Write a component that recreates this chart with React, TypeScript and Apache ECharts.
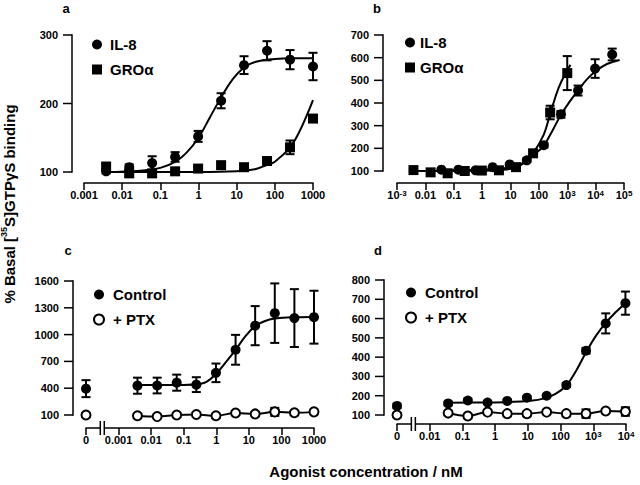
import React, { useEffect, useRef } from "react";
import * as echarts from "echarts";

const FONT = '"Liberation Sans", Arial, Helvetica, sans-serif';

// ---------- Panel a ----------
const concA = [0.0038, 0.0153, 0.061, 0.244, 0.977, 3.91, 15.6, 62.5, 250, 1000];
const il8A = [101, 107, 113, 122, 152, 204, 256, 277, 264, 254];
const il8AErr = [3, 4, 10, 7, 8, 11, 13, 14, 14, 20];
const groA = [108, 98, 98, 101, 105, 110, 107, 116, 136, 178];
const groAErr = [4, 4, 3, 3, 3, 4, 3, 4, 10, 5];
const il8AFitConc = [0.0038, 0.03, 0.1, 0.25, 0.5, 1, 2, 4, 8, 16, 32, 100, 300, 1000];
const il8AFit = [100, 102, 106, 115, 129, 150, 180, 210, 236, 253, 261, 265, 266, 266];
const groAFitConc = [0.0038, 1, 10, 30, 60, 100, 250, 450, 1000];
const groAFit = [100, 100, 101, 104, 110, 115, 136, 160, 205];
const ticksA = ["0.001", "0.01", "0.1", "1", "10", "100", "1000"];

// ---------- Panel b ----------
const concGroB = [0.0038, 0.0153, 0.061, 0.244, 0.977, 3.91, 15.6, 62.5, 250, 1000];
const groB = [104, 94, 90, 100, 102, 103, 117, 178, 358, 532];
const groBErr = [4, 4, 4, 4, 4, 4, 5, 10, 30, 75];
const concIl8B = [0.0366, 0.146, 0.586, 2.34, 9.37, 37.5, 150, 600, 2400, 9600, 38400];
const il8B = [106, 106, 103, 117, 129, 147, 214, 350, 455, 552, 614];
const il8BErr = [5, 5, 4, 5, 6, 8, 10, 15, 22, 41, 26];
const groBFitConc = [0.0038, 1, 5, 15, 30, 62.5, 150, 250, 500, 1000, 1300];
const groBFit = [100, 101, 105, 115, 135, 178, 262, 352, 468, 545, 568];
const il8BFitConc = [0.0366, 1, 5, 15, 40, 100, 150, 300, 600, 1200, 2400, 5000, 10000, 25000, 70000];
const il8BFit = [103, 106, 112, 120, 148, 190, 212, 278, 348, 405, 455, 505, 540, 572, 590];
const ticksB = ["10^-3", "0.01", "0.1", "1", "10", "100", "10^3", "10^4", "10^5"];

// ---------- Panel c ----------
const concC = [0, 0.0038, 0.0153, 0.061, 0.244, 0.977, 3.91, 15.6, 62.5, 250, 1000];
const ctrlC = [395, 428, 430, 462, 440, 572, 830, 1100, 1240, 1185, 1195];
const ctrlCErr = [95, 90, 88, 90, 83, 104, 167, 219, 333, 324, 296];
const ptxC = [100, 92, 82, 100, 105, 92, 122, 112, 135, 125, 135];
const ptxCErr = [0, 0, 0, 0, 0, 0, 0, 0, 45, 0, 0];
const ctrlCFitConc = [0.0038, 0.1, 0.3, 0.5, 1, 2, 3.91, 8, 15.6, 30, 62.5, 250, 1000];
const ctrlCFit = [435, 437, 447, 470, 565, 695, 830, 985, 1095, 1150, 1180, 1195, 1198];
const ticksC = ["0", "0.001", "0.01", "0.1", "1", "10", "100", "1000"];

// ---------- Panel d ----------
const concD = [0, 0.0366, 0.146, 0.586, 2.34, 9.37, 37.5, 150, 600, 2400, 9600];
const ctrlD = [147, 160, 175, 165, 173, 190, 200, 255, 433, 575, 680];
const ctrlDErr = [12, 10, 10, 8, 8, 8, 8, 10, 15, 52, 60];
const ptxD = [100, 110, 95, 115, 107, 107, 115, 107, 107, 121, 118];
const ptxDErr = [0, 0, 0, 0, 0, 0, 0, 0, 22, 0, 22];
const ctrlDFitConc = [0.0366, 0.5, 3, 10, 30, 70, 150, 300, 600, 1200, 2400, 5000, 9600];
const ctrlDFit = [163, 165, 168, 173, 185, 210, 253, 330, 425, 510, 578, 635, 680];
const ticksD = ["0", "0.01", "0.1", "1", "10", "100", "10^3", "10^4"];

// axis position used for the zero-dose point (left of the axis break)
const ZERO_C = -4;
const ZERO_D = -3;

const toX = (c: number, zero: number) => (c === 0 ? zero : Math.log10(c));
const pts = (conc: number[], v: number[], zero = -99) => conc.map((c, i) => [toX(c, zero), v[i]]);
const errPts = (conc: number[], v: number[], e: number[], zero = -99) =>
  conc.map((c, i) => [toX(c, zero), v[i], e[i]]).filter((d) => d[2] > 0);

const supFmt = (s: string) => {
  const m = s.match(/^10\^(.+)$/);
  return m ? `10{s|${m[1]}}` : s;
};

const BLACK = "#000";

function fit(gi: number, data: number[][]) {
  return {
    type: "line", xAxisIndex: gi, yAxisIndex: gi, data, smooth: 0.4, showSymbol: false,
    symbol: "none", lineStyle: { color: BLACK, width: 2, opacity: 1 }, z: 2, silent: true, clip: false,
  };
}

function errBars(gi: number, data: number[][]) {
  return {
    type: "custom", xAxisIndex: gi, yAxisIndex: gi, data, z: 3, silent: true, clip: false,
    encode: { x: 0, y: 1 },
    renderItem: (_p: any, api: any) => {
      const x = api.value(0), y = api.value(1), e = api.value(2);
      const t = api.coord([x, y + e]);
      const b = api.coord([x, y - e]);
      const hw = 4.5;
      const st = { stroke: BLACK, lineWidth: 2 };
      return {
        type: "group",
        children: [
          { type: "line", shape: { x1: t[0], y1: t[1], x2: b[0], y2: b[1] }, style: st },
          { type: "line", shape: { x1: t[0] - hw, y1: t[1], x2: t[0] + hw, y2: t[1] }, style: st },
          { type: "line", shape: { x1: b[0] - hw, y1: b[1], x2: b[0] + hw, y2: b[1] }, style: st },
        ],
      };
    },
  };
}

function dots(name: string, gi: number, data: number[][], symbol: string, size: number, open = false) {
  return {
    type: "scatter", name, xAxisIndex: gi, yAxisIndex: gi, data, symbol, symbolSize: size,
    itemStyle: open
      ? { color: "#fff", borderColor: BLACK, borderWidth: 2, opacity: 1 }
      : { color: BLACK, opacity: 1 },
    z: 4, silent: true, clip: false,
  };
}

// x-axis break mark "||" between the zero-dose tick and the first decade
function axisBreak(gi: number, pos: number, ymin: number, offset: number) {
  return {
    type: "custom", xAxisIndex: gi, yAxisIndex: gi, data: [[pos, ymin]], z: 5, silent: true, clip: false,
    encode: { x: 0, y: 1 },
    renderItem: (_p: any, api: any) => {
      const c = api.coord([api.value(0), api.value(1)]);
      const y = c[1] + offset;
      const st = { stroke: BLACK, lineWidth: 1.5 };
      return {
        type: "group",
        children: [
          { type: "rect", shape: { x: c[0] - 2, y: y - 2, width: 4, height: 4 }, style: { fill: "#fff" } },
          { type: "line", shape: { x1: c[0] - 2, y1: y - 7, x2: c[0] - 2, y2: y + 7 }, style: st },
          { type: "line", shape: { x1: c[0] + 2, y1: y - 7, x2: c[0] + 2, y2: y + 7 }, style: st },
        ],
      };
    },
  };
}

// offset y-axis line with its ticks (drawn from the y-axis values, shifted left of the plot)
function yLine(gi: number, xmin: number, ticks: number[], offset: number) {
  const ymin = ticks[0], ymax = ticks[ticks.length - 1];
  return {
    type: "custom", xAxisIndex: gi, yAxisIndex: gi, data: [[xmin, ymin, ymax]], z: 6, silent: true, clip: false,
    encode: { x: 0, y: 1 },
    renderItem: (_p: any, api: any) => {
      const x0 = api.value(0);
      const b = api.coord([x0, api.value(1)]);
      const t = api.coord([x0, api.value(2)]);
      const ax = b[0] - offset;
      const children: any[] = [
        { type: "rect", shape: { x: ax - 0.75, y: t[1] - 0.75, width: 1.5, height: b[1] - t[1] + 1.5 }, style: { fill: BLACK } },
      ];
      ticks.forEach((v) => {
        const p = api.coord([x0, v]);
        children.push({ type: "rect", shape: { x: ax - 9, y: p[1] - 0.75, width: 9, height: 1.5 }, style: { fill: BLACK } });
      });
      return { type: "group", children };
    },
  };
}

const labelBase = { color: BLACK, fontSize: 11, fontWeight: "bold", fontFamily: FONT };

function xAxis(gi: number, min: number, max: number, ticks: string[], offset: number) {
  return {
    type: "value", gridIndex: gi, min, max, interval: 1, offset, position: "bottom",
    axisLine: { show: true, onZero: false, lineStyle: { color: BLACK, width: 1.5 } },
    axisTick: { show: true, length: 7, lineStyle: { color: BLACK, width: 1.5 } },
    splitLine: { show: false },
    axisLabel: {
      ...labelBase, margin: 6, showMinLabel: true, showMaxLabel: true, hideOverlap: false,
      formatter: (v: number) => supFmt(ticks[Math.round(v - min)] ?? ""),
      rich: { s: { ...labelBase, fontSize: 8, verticalAlign: "top", lineHeight: 8 } },
    },
  };
}

function yAxis(gi: number, min: number, max: number, interval: number, offset: number) {
  return {
    type: "value", gridIndex: gi, min, max, interval, offset, position: "left",
    axisLine: { show: false, onZero: false },
    axisTick: { show: false },
    splitLine: { show: false },
    axisLabel: {
      ...labelBase, margin: 14, showMinLabel: true, showMaxLabel: true,
      formatter: (v: number) => String(v),
    },
  };
}

const legendText = { color: BLACK, fontSize: 15, fontWeight: "bold", fontFamily: FONT, lineHeight: 15 };
function legend(names: any[], left: number, top: number, pad: number) {
  return {
    data: names, left, top, orient: "vertical", itemWidth: 10, itemHeight: 10, itemGap: 10,
    selectedMode: false, padding: 0, textStyle: { ...legendText, padding: [0, 0, 0, pad] },
  };
}

const filledItem = { color: BLACK, opacity: 1 };
const openItem = { color: "#fff", borderColor: BLACK, borderWidth: 2, opacity: 1 };

const letter = (t: string, x: number, y: number) => ({
  type: "text", x, y,
  style: { text: t, fill: BLACK, fontSize: 13, fontWeight: "bold", fontFamily: FONT, align: "center", verticalAlign: "middle" },
});

const yTicksA = [100, 200, 300];
const yTicksB = [100, 200, 300, 400, 500, 600, 700];
const yTicksC = [100, 400, 700, 1000, 1300, 1600];
const yTicksD = [100, 200, 300, 400, 500, 600, 700, 800];

const option: any = {
  animation: false,
  backgroundColor: "#fff",
  grid: [
    { left: 84, top: 35, width: 229, height: 137 },
    { left: 397, top: 35, width: 227, height: 136 },
    { left: 86, top: 281, width: 228, height: 134 },
    { left: 397, top: 280, width: 229, height: 135 },
  ],
  xAxis: [
    xAxis(0, -3, 3, ticksA, 11),
    xAxis(1, -3, 5, ticksB, 12),
    xAxis(2, ZERO_C, 3, ticksC, 13),
    xAxis(3, ZERO_D, 4, ticksD, 9),
  ],
  yAxis: [
    yAxis(0, 100, 300, 100, 12),
    yAxis(1, 100, 700, 100, 14),
    yAxis(2, 100, 1600, 300, 13),
    yAxis(3, 100, 800, 100, 13),
  ],
  legend: [
    legend([{ name: "IL-8", icon: "circle", itemStyle: filledItem }, { name: "GROα", icon: "rect", itemStyle: filledItem }], 92, 37, 3),
    legend([{ name: "IL-8", icon: "circle", itemStyle: filledItem }, { name: "GROα", icon: "rect", itemStyle: filledItem }], 405, 35, 0),
    legend([{ name: "Control", icon: "circle", itemStyle: filledItem }, { name: "+ PTX", icon: "circle", itemStyle: openItem }], 93, 287, 4),
    legend([{ name: "Control", icon: "circle", itemStyle: filledItem }, { name: "+ PTX", icon: "circle", itemStyle: openItem }], 405, 285, 4),
  ],
  graphic: [
    letter("a", 66, 8),
    letter("b", 377, 8),
    letter("c", 68, 250),
    letter("d", 378, 250),
    { type: "text", x: 366, y: 471, style: { text: "Agonist concentration / nM", fill: BLACK, fontSize: 15, fontWeight: "bold", fontFamily: FONT, align: "center", verticalAlign: "middle" } },
    {
      type: "text", x: 9, y: 204, rotation: Math.PI / 2,
      style: {
        text: "{n|% Basal [}{s|35}{n|S]GTPγS binding}", fill: BLACK, fontFamily: FONT, fontWeight: "bold",
        align: "center", verticalAlign: "middle",
        rich: {
          n: { fontSize: 15, fontWeight: "bold", fontFamily: FONT, fill: BLACK, lineHeight: 20, verticalAlign: "middle" },
          s: { fontSize: 9, fontWeight: "bold", fontFamily: FONT, fill: BLACK, lineHeight: 10, verticalAlign: "top" },
        },
      },
    },
  ],
  series: [
    // a
    yLine(0, -3, yTicksA, 12),
    fit(0, pts(il8AFitConc, il8AFit)),
    fit(0, pts(groAFitConc, groAFit)),
    errBars(0, errPts(concA, il8A, il8AErr)),
    errBars(0, errPts(concA, groA, groAErr)),
    dots("IL-8", 0, pts(concA, il8A), "circle", 10),
    dots("GROα", 0, pts(concA, groA), "rect", 10),
    // b
    yLine(1, -3, yTicksB, 14),
    fit(1, pts(groBFitConc, groBFit)),
    fit(1, pts(il8BFitConc, il8BFit)),
    errBars(1, errPts(concGroB, groB, groBErr)),
    errBars(1, errPts(concIl8B, il8B, il8BErr)),
    dots("GROα", 1, pts(concGroB, groB), "rect", 10),
    dots("IL-8", 1, pts(concIl8B, il8B), "circle", 10),
    // c
    yLine(2, ZERO_C, yTicksC, 13),
    fit(2, pts(ctrlCFitConc, ctrlCFit)),
    fit(2, pts(concC.slice(1), ptxC.slice(1))),
    errBars(2, errPts(concC, ctrlC, ctrlCErr, ZERO_C)),
    errBars(2, errPts(concC, ptxC, ptxCErr, ZERO_C)),
    dots("Control", 2, pts(concC, ctrlC, ZERO_C), "circle", 10),
    dots("+ PTX", 2, pts(concC, ptxC, ZERO_C), "circle", 9, true),
    axisBreak(2, (ZERO_C + ZERO_C + 1) / 2, 100, 13),
    // d
    yLine(3, ZERO_D, yTicksD, 13),
    fit(3, pts(ctrlDFitConc, ctrlDFit)),
    fit(3, pts(concD.slice(1), ptxD.slice(1))),
    errBars(3, errPts(concD, ctrlD, ctrlDErr, ZERO_D)),
    errBars(3, errPts(concD, ptxD, ptxDErr, ZERO_D)),
    dots("Control", 3, pts(concD, ctrlD, ZERO_D), "circle", 10),
    dots("+ PTX", 3, pts(concD, ptxD, ZERO_D), "circle", 9, true),
    axisBreak(3, (ZERO_D + ZERO_D + 1) / 2, 100, 9),
  ],
};

export default function App() {
  const ref = useRef<HTMLDivElement>(null);
  useEffect(() => {
    if (!ref.current) return;
    const chart = echarts.init(ref.current, null, { renderer: "svg" });
    chart.setOption(option);
    return () => chart.dispose();
  }, []);
  return (
    <div
      ref={ref}
      style={{ position: "absolute", left: 0, top: 0, width: 640, height: 485, background: "#fff" }}
    />
  );
}
